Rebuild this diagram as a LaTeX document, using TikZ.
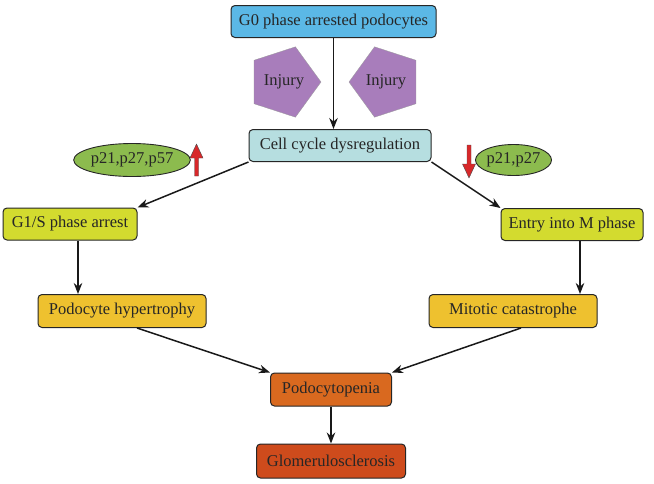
\documentclass[tikz,border=0pt]{standalone}
\usepackage{fontspec}
\setmainfont{Liberation Serif}
\usetikzlibrary{shapes.geometric,arrows.meta}
\definecolor{gzero}{HTML}{5BB8E6}
\definecolor{cellc}{HTML}{B6DEE0}
\definecolor{pgreen}{HTML}{8CBB4E}
\definecolor{lime}{HTML}{D3DB2F}
\definecolor{gold}{HTML}{EEC12F}
\definecolor{orng}{HTML}{D9691F}
\definecolor{brick}{HTML}{CE4B1C}
\definecolor{injc}{HTML}{A87DBB}
\definecolor{upred}{HTML}{D8282A}
\tikzset{
  box/.style={draw=black!85,line width=1pt,rounded corners=4pt,minimum height=32pt,
    inner sep=2pt,font=\fontsize{16.5}{18}\selectfont,text=black!85},
  injury/.style={regular polygon,regular polygon sides=5,draw=black!40,line width=0.3pt,fill=injc,
    minimum size=74pt,inner sep=0pt,font=\fontsize{16.5}{18}\selectfont,text=black!85},
  cdk/.style={ellipse,draw=black!85,line width=0.9pt,fill=pgreen,inner sep=0pt,
    font=\fontsize{16.5}{18}\selectfont,text=black!85},
  flow/.style={-{Stealth[length=11pt,width=8.5pt]},line width=1.5pt,black!90},
  level/.style={draw=black!70,line width=0.4pt,fill=upred}
}
\begin{document}
\begin{tikzpicture}[x=1pt,y=-1pt]
  \useasboundingbox (0,0) rectangle (654,483);
  % boxes
  \node[box,fill=gzero,minimum width=205pt] (g0) at (333.5,21.5) {G0 phase arrested podocytes};
  \node[box,fill=cellc,minimum width=182pt] (cell) at (340,145.5) {Cell cycle dysregulation};
  \node[box,fill=lime,minimum width=134pt] (g1s) at (70,224) {G1/S phase arrest};
  \node[box,fill=lime,minimum width=142pt] (entry) at (572,224.5) {Entry into M phase};
  \node[box,fill=gold,minimum width=168pt,minimum height=33pt] (hyper) at (122,311) {Podocyte hypertrophy};
  \node[box,fill=gold,minimum width=168pt,minimum height=33pt] (mito) at (513,311) {Mitotic catastrophe};
  \node[box,fill=orng,minimum width=121pt,minimum height=33pt] (penia) at (331,389.5) {Podocytopenia};
  \node[box,fill=brick,minimum width=149pt,minimum height=34pt] (glom) at (331,461) {Glomerulosclerosis};
  % injury
  \node[injury,shape border rotate=-90] (injl) at (284,82) {Injury};
  \node[injury,shape border rotate=90] (injr) at (386,82) {Injury};
  % cdk inhibitors
  \node[cdk,minimum width=116pt,minimum height=33pt] (cdkl) at (132,160) {p21,p27,p57};
  \node[cdk,minimum width=76pt,minimum height=31pt] (cdkr) at (513.5,160) {p21,p27};
  \draw[level] (194.5,176)--(194.5,158)--(190,158)--(196.5,144)--(203,158)--(198.5,158)--(198.5,176)--cycle;
  \draw[level] (467,145)--(467,164)--(462.5,164)--(469,178)--(475.5,164)--(471,164)--(471,145)--cycle;
  % connectors
  \draw[flow] (g0.south) -- (g0.south |- cell.north);
  \draw[flow] (cell.south west) -- (g1s.north east);
  \draw[flow] (cell.south east) -- (entry.north west);
  \draw[flow] ([xshift=8pt]g1s.south) -- ([xshift=8pt]g1s.south |- hyper.north);
  \draw[flow] ([xshift=8pt]entry.south) -- ([xshift=8pt]entry.south |- mito.north);
  \draw[flow] ([xshift=15pt]hyper.south) -- (penia.north west);
  \draw[flow] ([xshift=8pt]mito.south) -- (penia.north east);
  \draw[flow] (penia.south) -- (penia.south |- glom.north);
\end{tikzpicture}
\end{document}
